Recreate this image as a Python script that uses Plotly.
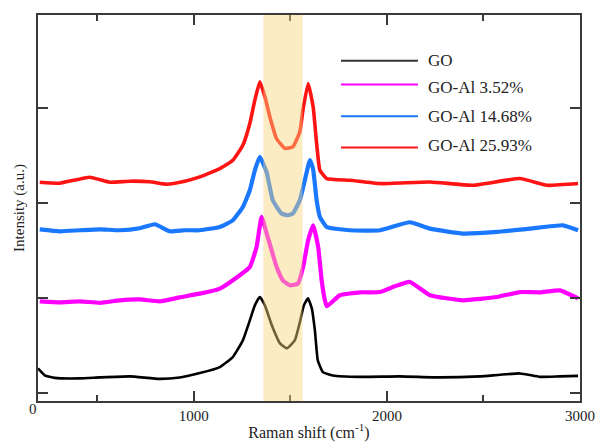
import plotly.graph_objects as go

# Raman shift (cm^-1) sample positions and intensities (a.u., offset stacked)
go_x = [193, 228, 280, 409, 513, 668, 824, 927, 1031, 1135, 1202, 1254, 1290, 1316, 1342, 1368, 1404, 1446,
        1482, 1523, 1549, 1570, 1591, 1611, 1627, 1642, 1668, 1720, 1860, 2067, 2275, 2482, 2689, 2793, 2896, 2990]
go_y = [0.263, 0.19, 0.163, 0.158, 0.168, 0.179, 0.153, 0.168, 0.214, 0.277, 0.382, 0.558, 0.768, 0.926, 1.014,
        0.926, 0.716, 0.526, 0.474, 0.558, 0.747, 0.926, 1.0, 0.895, 0.663, 0.347, 0.224, 0.189, 0.174, 0.179,
        0.168, 0.179, 0.21, 0.174, 0.179, 0.184]

al352_x = [202, 306, 409, 513, 617, 720, 824, 927, 1031, 1135, 1238, 1290, 1325, 1351, 1377, 1429, 1461, 1497,
           1539, 1566, 1592, 1618, 1644, 1662, 1679, 1689, 1756, 1860, 1964, 2041, 2119, 2223, 2394, 2570, 2689,
           2793, 2896, 2990]
al352_y = [0.968, 0.958, 0.968, 0.953, 0.979, 0.989, 0.968, 1.01, 1.049, 1.102, 1.242, 1.329, 1.54, 1.856,
           1.684, 1.329, 1.189, 1.137, 1.155, 1.329, 1.61, 1.768, 1.54, 1.189, 0.979, 0.916, 1.032, 1.063, 1.066,
           1.126, 1.172, 1.032, 0.979, 1.014, 1.066, 1.063, 1.084, 1.0]

al1468_x = [202, 306, 409, 513, 617, 720, 798, 876, 953, 1031, 1135, 1202, 1254, 1290, 1316, 1342, 1377, 1409,
            1454, 1487, 1513, 1549, 1575, 1601, 1617, 1636, 1653, 1688, 1808, 1964, 2119, 2223, 2394, 2570, 2741,
            2912, 2990]
al1468_y = [1.726, 1.705, 1.716, 1.726, 1.716, 1.737, 1.779, 1.705, 1.716, 1.716, 1.751, 1.821, 1.961, 2.137,
            2.347, 2.487, 2.326, 2.032, 1.892, 1.874, 1.892, 2.032, 2.242, 2.453, 2.368, 2.032, 1.856, 1.751,
            1.716, 1.716, 1.8, 1.733, 1.681, 1.698, 1.733, 1.768, 1.716]

al2593_x = [202, 306, 461, 565, 668, 772, 860, 953, 1031, 1135, 1202, 1254, 1290, 1316, 1342, 1368, 1394, 1428,
            1472, 1513, 1549, 1565, 1592, 1618, 1636, 1653, 1688, 1808, 1964, 2223, 2446, 2689, 2829, 2990]
al2593_y = [2.221, 2.211, 2.274, 2.221, 2.232, 2.226, 2.2, 2.232, 2.277, 2.365, 2.453, 2.611, 2.839, 3.084,
            3.277, 3.119, 2.908, 2.681, 2.576, 2.593, 2.751, 2.979, 3.26, 3.014, 2.628, 2.347, 2.26, 2.242, 2.207,
            2.224, 2.189, 2.26, 2.189, 2.207]

series_names = ["GO", "GO-Al 3.52%", "GO-Al 14.68%", "GO-Al 25.93%"]
series_colors = ["#000000", "#ff00ff", "#1a78ff", "#ff1414"]
band_range = [1360, 1563]
x_ticks = [1000, 2000, 3000]

xs = [go_x, al352_x, al1468_x, al2593_x]
ys = [go_y, al352_y, al1468_y, al2593_y]
widths = [2.6, 4.2, 4.2, 3.6]

SERIF = "Liberation Serif"

fig = go.Figure()
for x, y, name, col, w in zip(xs, ys, series_names, series_colors, widths):
    fig.add_trace(go.Scatter(x=x, y=y, mode="lines", name=name,
                             line=dict(color=col, width=w, shape="spline", smoothing=0.4),
                             showlegend=False))

fig.add_shape(type="rect", xref="x", yref="paper", x0=band_range[0], x1=band_range[1], y0=0, y1=1,
              fillcolor="rgba(249,213,124,0.45)", line=dict(width=0), layer="above")

# manual legend
leg_line_y = [0.8816, 0.820, 0.738, 0.657]
leg_text_y = [0.8816, 0.811, 0.736, 0.661]
for name, col, ly, ty in zip(series_names, series_colors, leg_line_y, leg_text_y):
    fig.add_shape(type="line", xref="paper", yref="paper", x0=0.559, x1=0.701, y0=ly, y1=ly,
                  line=dict(color=col if col != "#000000" else "#333333", width=2))
    fig.add_annotation(xref="paper", yref="paper", x=0.716, y=ty, text=name, showarrow=False,
                       xanchor="left", yanchor="middle",
                       font=dict(family=SERIF, size=17, color="#222"))

fig.add_annotation(xref="paper", yref="paper", x=-0.009, y=-0.0207, text="0", showarrow=False,
                   xanchor="center", yanchor="middle",
                   font=dict(family=SERIF, size=15, color="#222"))

axis_common = dict(showline=True, linecolor="#3a3a3a", linewidth=2, mirror="ticks", ticks="inside",
                   tickcolor="#3a3a3a", tickwidth=2, showgrid=False, zeroline=False, automargin=False)

fig.update_xaxes(range=[193, 3000], tickvals=x_ticks, ticklen=10,
                 minor=dict(tickvals=[500, 1500, 2500], ticks="inside", ticklen=6, tickwidth=2, tickcolor="#3a3a3a"),
                 tickfont=dict(family=SERIF, size=15, color="#222"),
                 title=dict(text="Raman shift (cm<sup>-1</sup>)", standoff=6,
                            font=dict(family=SERIF, size=16, color="#222")),
                 **axis_common)
fig.update_yaxes(range=[-0.08, 3.98], tickvals=[0, 1, 2, 3], ticklen=10, showticklabels=False,
                 title=dict(text="Intensity (a.u.)", standoff=8,
                            font=dict(family=SERIF, size=15, color="#222")),
                 **axis_common)

fig.update_layout(width=597, height=442, margin=dict(l=38, r=17, t=15, b=41),
                  plot_bgcolor="white", paper_bgcolor="white",
                  font=dict(family=SERIF, color="#222"))

fig.write_html("out.html")
